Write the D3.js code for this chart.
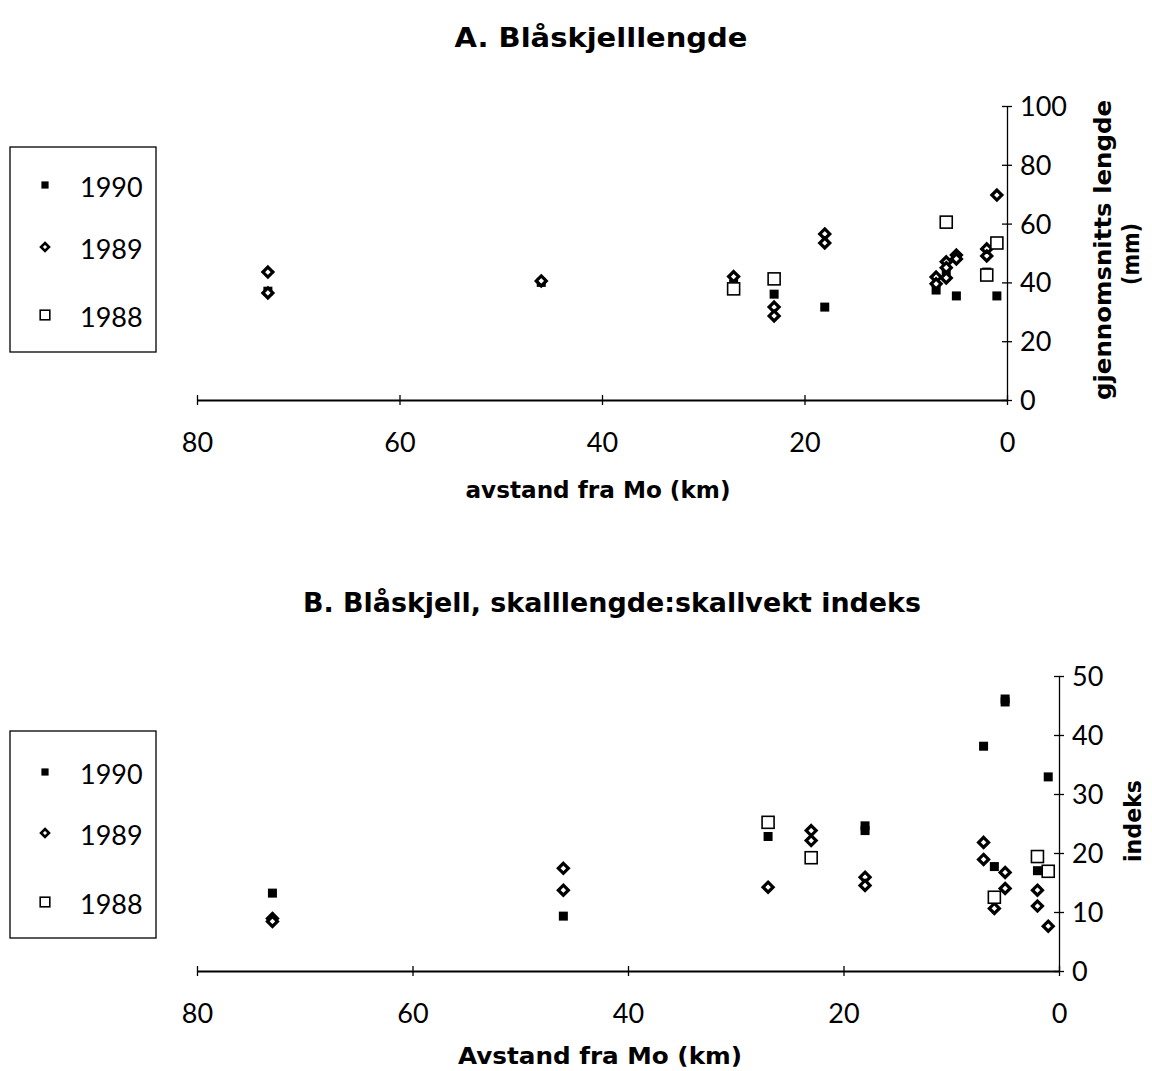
<!DOCTYPE html>
<html><head><meta charset="utf-8">
<script src="https://cdn.jsdelivr.net/npm/d3@7"></script>
<style>
body{margin:0;background:#fff;}
text{fill:#000;}
.num{font-family:"Lato","Open Sans",sans-serif;font-size:27px;font-weight:400;}
.bold{font-family:"DejaVu Sans","Lato",sans-serif;font-weight:700;}
</style></head>
<body>
<svg id="c" width="1152" height="1071"></svg>
<script>
// ---- Data ----
const xTicks = [80, 60, 40, 20, 0];
const yTicksA = [0, 20, 40, 60, 80, 100];
const yTicksB = [0, 10, 20, 30, 40, 50];
const years = ["1990", "1989", "1988"];

// Panel A: mean shell length (mm) vs distance from Mo (km)
const distA1990 = [73, 46, 27, 23, 18, 7, 6, 5, 2, 1];
const lenA1990  = [37, 40, 39.5, 36, 31.6, 37.4, 44, 35.4, 43.5, 35.4];
const distA1989 = [73, 73, 46, 27, 23, 23, 18, 18, 7, 7, 6, 6, 6, 5, 5, 2, 2, 1];
const lenA1989  = [43.5, 36.4, 40.5, 42, 31.6, 28.6, 56.5, 53.4, 41.8, 39.5, 47, 45, 41.5, 49.3, 48, 51.4, 49, 69.7];
const distA1988 = [27, 23, 6, 2, 1];
const lenA1988  = [37.8, 41.2, 60.5, 42.5, 53.4];

// Panel B: shell length : shell weight index
const distB1990 = [73, 46, 27, 18, 18, 7, 6, 5, 5, 2, 1];
const idxB1990  = [13.2, 9.3, 22.8, 24.6, 23.8, 38.1, 17.7, 46.1, 45.6, 17, 32.9];
const distB1989 = [73, 73, 46, 46, 27, 23, 23, 18, 18, 7, 7, 6, 5, 5, 2, 2, 1];
const idxB1989  = [8.9, 8.4, 17.4, 13.7, 14.2, 23.8, 22.1, 15.9, 14.5, 21.8, 18.9, 10.6, 16.7, 14, 13.7, 11, 7.6];
const distB1988 = [27, 23, 6, 2, 1];
const idxB1988  = [25.2, 19.2, 12.5, 19.4, 16.9];

const svg = d3.select("#c");

function marker(g, year, x, y, s) {
  if (year === "1990") {
    const a = 9 * s;
    g.append("rect").attr("x", x - a/2).attr("y", y - a/2).attr("width", a).attr("height", a).attr("fill", "#000");
  } else if (year === "1989") {
    const r = 5 * s;
    g.append("path").attr("d", `M${x},${y-r}L${x+r},${y}L${x},${y+r}L${x-r},${y}Z`)
      .attr("fill", "#fff").attr("stroke", "#000").attr("stroke-width", 3.2 * s);
  } else {
    const a = 12 * s;
    g.append("rect").attr("x", x - a/2).attr("y", y - a/2).attr("width", a).attr("height", a)
      .attr("fill", "#fff").attr("stroke", "#000").attr("stroke-width", 1.6);
  }
}

function boldText(g, t, x, y, size, len, rot) {
  const el = g.append("text").attr("class", "bold")
    .attr("transform", `translate(${x},${y})` + (rot ? " rotate(-90)" : ""))
    .attr("dy", "0.35em").attr("text-anchor", "middle").attr("font-size", size).text(t);
  if (len) el.attr("textLength", len).attr("lengthAdjust", "spacingAndGlyphs");
}

function panel(cfg) {
  const x = d3.scaleLinear().domain([80, 0]).range([cfg.x0, cfg.x1]);
  const y = d3.scaleLinear().domain(cfg.yDomain).range([cfg.y0, cfg.y1]);
  const g = svg.append("g");

  // x axis
  const xa = g.append("g").attr("transform", `translate(0,${cfg.y0})`)
    .call(d3.axisBottom(x).tickValues(xTicks).tickSize(0).tickPadding(0).tickFormat(d3.format("d")));
  xa.attr("font-size", null).attr("font-family", null);
  xa.select(".domain").attr("stroke", "#000").attr("stroke-width", 1.8);
  xa.selectAll(".tick line").attr("y1", -5).attr("y2", 5).attr("stroke", "#000").attr("stroke-width", 1.3);
  xa.selectAll(".tick text").attr("class", "num").attr("y", cfg.xLabY).attr("dy", "0.35em");

  // y axis
  const ya = g.append("g").attr("transform", `translate(${cfg.x1},0)`)
    .call(d3.axisRight(y).tickValues(cfg.yTicks).tickSize(0).tickPadding(0).tickFormat(d3.format("d")));
  ya.attr("font-size", null).attr("font-family", null);
  ya.select(".domain").attr("stroke", "#000").attr("stroke-width", 1.3);
  ya.selectAll(".tick line").attr("x1", -5).attr("x2", 5).attr("stroke", "#000").attr("stroke-width", 1.3);
  ya.selectAll(".tick text").attr("class", "num").attr("x", 13).attr("dy", "0.35em").attr("text-anchor", "start");

  // points
  const pg = g.append("g");
  cfg.series.forEach(sr => {
    sr.d.forEach((dv, i) => marker(pg, sr.year, x(dv), y(sr.v[i]), 1));
  });

  // legend
  const lg = g.append("g");
  lg.append("rect").attr("x", cfg.lx).attr("y", cfg.ly).attr("width", 146).attr("height", cfg.lh)
    .attr("fill", "none").attr("stroke", "#000").attr("stroke-width", 1.3);
  years.forEach((yr, i) => {
    const cy = cfg.legY[i];
    marker(lg, yr, cfg.lx + 35, cy - 3, 0.8);
    lg.append("text").attr("class", "num").attr("x", cfg.lx + 70).attr("y", cy).attr("dy", "0.35em").text(yr);
  });

  boldText(g, cfg.title, cfg.tx, cfg.ty, 27, cfg.tlen, false);
  boldText(g, cfg.xLabel, cfg.xlx, cfg.xly, 23, cfg.xllen, false);
  cfg.yLabels.forEach(l => boldText(g, l.t, l.x, l.y, 23, l.len, true));
}

panel({
  x0: 197, x1: 1007, y0: 400, y1: 106, yDomain: [0, 100], yTicks: yTicksA, xLabY: 43,
  series: [
    {year: "1990", d: distA1990, v: lenA1990},
    {year: "1989", d: distA1989, v: lenA1989},
    {year: "1988", d: distA1988, v: lenA1988}
  ],
  lx: 10, ly: 147, lh: 205, legY: [188, 250, 318],
  title: "A. Blåskjelllengde", tx: 601, ty: 38, tlen: 293,
  xLabel: "avstand fra Mo (km)", xlx: 598, xly: 490, xllen: 265,
  yLabels: [{t: "gjennomsnitts lengde", x: 1103, y: 250, len: 300}, {t: "(mm)", x: 1131, y: 254, len: 62}]
});

panel({
  x0: 197, x1: 1059, y0: 971, y1: 676, yDomain: [0, 50], yTicks: yTicksB, xLabY: 43,
  series: [
    {year: "1990", d: distB1990, v: idxB1990},
    {year: "1989", d: distB1989, v: idxB1989},
    {year: "1988", d: distB1988, v: idxB1988}
  ],
  lx: 10, ly: 731, lh: 207, legY: [775, 836, 905],
  title: "B. Blåskjell, skalllengde:skallvekt indeks", tx: 612, ty: 603, tlen: 618,
  xLabel: "Avstand fra Mo (km)", xlx: 600, xly: 1056, xllen: 284,
  yLabels: [{t: "indeks", x: 1133, y: 821, len: 82}]
});
</script>
</body></html>
